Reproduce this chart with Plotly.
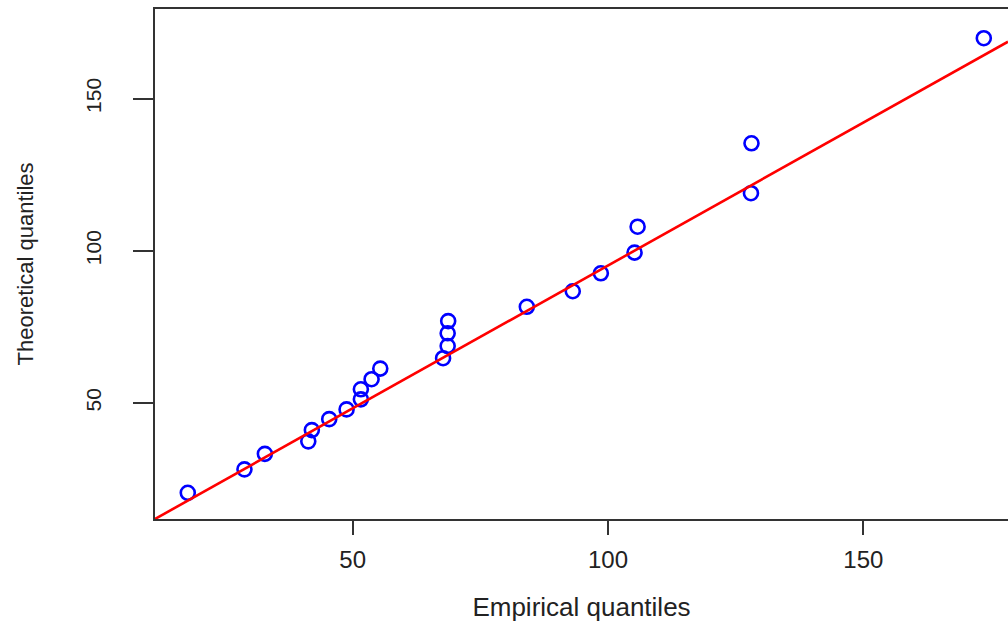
import plotly.graph_objects as go
import numpy as np

# Empirical (x) and theoretical (y) quantiles
empirical = [17.7, 28.8, 32.8, 41.3, 42.0, 45.4, 48.8, 51.6, 51.6, 53.7, 55.4,
             67.7, 68.6, 68.6, 68.7, 84.1, 93.1, 98.6, 105.2, 105.8, 128.0, 128.1, 173.6]
theoretical = [20.5, 28.2, 33.3, 37.4, 41.1, 44.7, 47.9, 51.2, 54.5, 57.8, 61.3,
               64.7, 68.7, 72.9, 76.9, 81.6, 86.7, 92.6, 99.4, 107.9, 118.9, 135.3, 169.8]

# Reference line y = a + b x
line_intercept = 1.32
line_slope = 0.9383

x_range = [11.28, 178.34]
y_range = [11.9, 179.4]
x_ticks = [50, 100, 150]
y_ticks = [50, 100, 150]

lx = np.array(x_range)
ly = line_intercept + line_slope * lx

fig = go.Figure()
fig.add_trace(go.Scatter(
    x=empirical, y=theoretical, mode="markers",
    marker=dict(symbol="circle-open", size=14, color="#0000FF",
                line=dict(width=2.6, color="#0000FF")),
    showlegend=False, hoverinfo="x+y"))
fig.add_trace(go.Scatter(
    x=lx, y=ly, mode="lines",
    line=dict(color="#FF0000", width=2.6),
    showlegend=False, hoverinfo="skip"))

font_family = "Liberation Sans, Arial, sans-serif"

fig.update_layout(
    width=1008, height=622,
    margin=dict(l=155, r=0, t=9, b=103),
    paper_bgcolor="white", plot_bgcolor="white",
    font=dict(family=font_family, color="#222222"),
    xaxis=dict(
        range=x_range, tickvals=x_ticks, ticktext=[str(v) for v in x_ticks],
        showgrid=False, zeroline=False,
        showline=True, linecolor="#333333", linewidth=1.6, mirror=True,
        ticks="outside", ticklen=14, tickwidth=1.6, tickcolor="#333333",
        tickfont=dict(size=24, color="#222222"), ticklabelstandoff=4,
        title=dict(text="Empirical quantiles", font=dict(size=26, color="#222222"), standoff=26),
        automargin=False,
    ),
    yaxis=dict(
        range=y_range, tickvals=y_ticks, ticktext=[str(v) for v in y_ticks],
        showgrid=False, zeroline=False,
        showline=True, linecolor="#333333", linewidth=1.6, mirror=False,
        ticks="outside", ticklen=20, tickwidth=1.6, tickcolor="#333333",
        tickfont=dict(size=21, color="#222222"), tickangle=-90, ticklabelstandoff=24,
        title=dict(text="Theoretical quantiles", font=dict(size=22, color="#222222"), standoff=42),
        automargin=False,
    ),
)

fig.write_html("out.html")
